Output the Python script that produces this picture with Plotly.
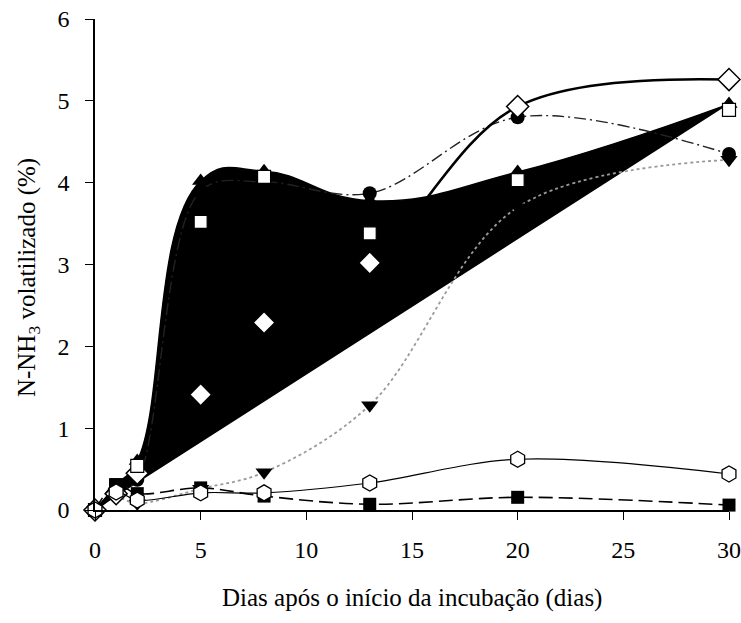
import plotly.graph_objects as go

# Sampling days
dias = [0, 1, 2, 5, 8, 13, 20, 30]

# N-NH3 volatilised (%) per treatment
s_triangulo = [0, 0.30, 0.60, 4.02, 4.14, 3.78, 4.13, 4.96]
s_quadrado_aberto = [0, 0.30, 0.54, 3.52, 4.07, 3.38, 4.03, 4.89]
s_circulo = [0, 0.20, 0.37, 3.90, 4.01, 3.87, 4.80, 4.35]
s_losango = [0, 0.20, 0.45, 1.41, 2.29, 3.02, 4.93, 5.26]
s_triangulo_inv = [0, 0.15, 0.08, 0.26, 0.46, 1.28, 3.70, 4.28]
s_hexagono = [0, 0.22, 0.12, 0.21, 0.21, 0.33, 0.62, 0.44]
s_quadrado_cheio = [0, 0.31, 0.20, 0.27, 0.17, 0.07, 0.155, 0.06]

x_ticks = [0, 5, 10, 15, 20, 25, 30]
y_ticks = [0, 1, 2, 3, 4, 5, 6]

x_title = "Dias após o início da incubação (dias)"
y_title = "N-NH<sub>3</sub> volatilizado (%)"

serif = "Liberation Serif"

fig = go.Figure()

# Smoothed series closed on itself and filled in black
fig.add_trace(go.Scatter(
    x=dias, y=s_triangulo, mode="lines+markers",
    line=dict(color="black", width=1.5, shape="spline", smoothing=1.3),
    fill="toself", fillcolor="black",
    marker=dict(symbol="triangle-up", size=15, color="black"),
    cliponaxis=False, showlegend=False,
))

fig.add_trace(go.Scatter(
    x=dias, y=s_triangulo_inv, mode="lines+markers",
    line=dict(color="#9a9a9a", width=1.8, dash="dot", shape="spline", smoothing=1.0),
    marker=dict(symbol="triangle-down", size=15, color="black"),
    cliponaxis=False, showlegend=False,
))

fig.add_trace(go.Scatter(
    x=dias, y=s_circulo, mode="lines+markers",
    line=dict(color="#222222", width=1.4, dash="12px,4px,2px,4px", shape="spline", smoothing=1.0),
    marker=dict(symbol="circle", size=14, color="black"),
    cliponaxis=False, showlegend=False,
))

fig.add_trace(go.Scatter(
    x=dias, y=s_losango, mode="lines+markers",
    line=dict(color="black", width=2.6, shape="spline", smoothing=1.0),
    marker=dict(symbol="diamond", size=17, color="white",
                line=dict(color="black", width=1.5)),
    cliponaxis=False, showlegend=False,
))

fig.add_trace(go.Scatter(
    x=dias, y=s_quadrado_aberto, mode="markers",
    marker=dict(symbol="square", size=13, color="white",
                line=dict(color="black", width=1.2)),
    cliponaxis=False, showlegend=False,
))

fig.add_trace(go.Scatter(
    x=dias, y=s_quadrado_cheio, mode="lines+markers",
    line=dict(color="black", width=1.6, dash="14px,6px", shape="spline", smoothing=1.0),
    marker=dict(symbol="square", size=13, color="black"),
    cliponaxis=False, showlegend=False,
))

fig.add_trace(go.Scatter(
    x=dias, y=s_hexagono, mode="lines+markers",
    line=dict(color="black", width=1.2, shape="spline", smoothing=1.0),
    marker=dict(symbol="hexagon", size=16, color="white",
                line=dict(color="black", width=1.3)),
    cliponaxis=False, showlegend=False,
))

axis_common = dict(
    showgrid=False, zeroline=False, showline=True, linecolor="black", linewidth=1.5,
    ticks="outside", ticklen=8, tickwidth=1.2, tickcolor="black",
    tickfont=dict(family=serif, size=24, color="black"),
    automargin=False,
)

fig.update_layout(
    width=741, height=623,
    margin=dict(l=95, r=12, t=19, b=113),
    paper_bgcolor="white", plot_bgcolor="white",
    font=dict(family=serif, size=24, color="black"),
    xaxis=dict(range=[0, 30], tickvals=x_ticks, ticklabelstandoff=9,
               ticktext=[str(v) for v in x_ticks], **axis_common),
    yaxis=dict(range=[0, 6], tickvals=y_ticks, ticklabelstandoff=11,
               ticktext=[str(v) for v in y_ticks], **axis_common),
    annotations=[
        dict(text=x_title, xref="paper", yref="paper", x=0.5, y=-0.18,
             xanchor="center", yanchor="middle", showarrow=False,
             font=dict(family=serif, size=25, color="black")),
        dict(text=y_title, xref="paper", yref="paper", x=-0.106, y=0.474,
             xanchor="center", yanchor="middle", showarrow=False, textangle=-90,
             font=dict(family=serif, size=25, color="black")),
    ],
)

fig.write_html("out.html")
